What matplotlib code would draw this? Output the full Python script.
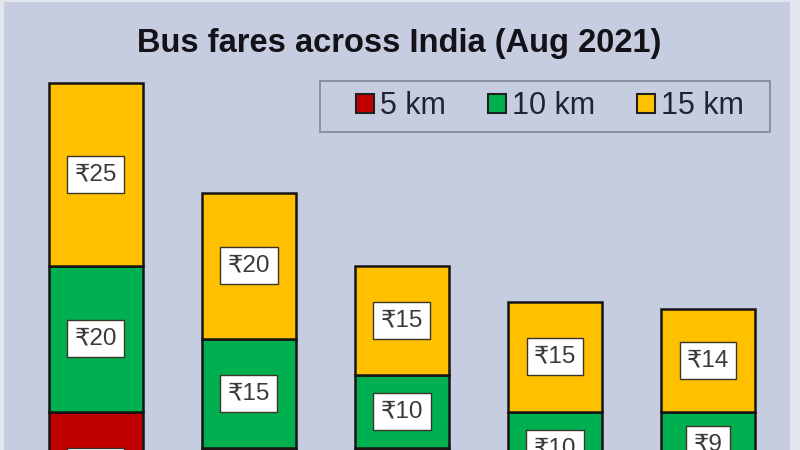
import matplotlib
matplotlib.use("Agg")
import matplotlib.pyplot as plt
import numpy as np
from matplotlib.patches import Patch, Rectangle

plt.rcParams['font.family'] = ['Liberation Sans', 'DejaVu Sans']

# ---- data ----
title = "Bus fares across India (Aug 2021)"
series_names = ["5 km", "10 km", "15 km"]
fare_5km = [15, 10, 10, 5, 6]
fare_10km = [20, 15, 10, 10, 9]
fare_15km = [25, 20, 15, 15, 14]
series_colors = ["#C00000", "#00B050", "#FFC000"]

bg = "#C6CDE0"
fig = plt.figure(figsize=(8, 4.5), dpi=100, facecolor="#E3E6EE")
ax = fig.add_axes([4 / 800, 0, 786 / 800, 448 / 450])
ax.set_facecolor(bg)

x = np.arange(len(fare_5km))
bottom = np.zeros(len(x))
for vals, col in zip([fare_5km, fare_10km, fare_15km], series_colors):
    vals = np.array(vals)
    ax.bar(x, vals, width=0.62, bottom=bottom, color=col,
           edgecolor="#151515", linewidth=1.8, zorder=2)
    for xi, b, v in zip(x, bottom, vals):
        ax.text(xi, b + v / 2, f"₹{v}", ha="center", va="center",
                fontsize=17.5, color="#3a3a3a", zorder=5, clip_on=False,
                bbox=dict(boxstyle="square,pad=0.3", facecolor="white",
                          edgecolor="#3d3428", linewidth=1.0))
    bottom = bottom + vals

ax.set_xlim(-0.601, 4.536)
ax.set_ylim(9.73, 71.1)
ax.set_xticks([])
ax.set_yticks([])
for s in ax.spines.values():
    s.set_visible(False)

# legend frame
ax.add_patch(Rectangle((0.402, 0.7098), 0.9746 - 0.402, 0.8237 - 0.7098,
                       transform=ax.transAxes, facecolor=bg, edgecolor="#7F889B",
                       linewidth=1.2, zorder=6))
handles = [Patch(facecolor=c, edgecolor="#202020", linewidth=1.5) for c in series_colors]
leg = ax.legend(handles, series_names, loc="center", bbox_to_anchor=(0.6947, 0.768),
                ncol=3, frameon=False, fontsize=22, handlelength=0.59,
                handleheight=0.59, handletextpad=0.2, columnspacing=1.36,
                borderpad=0.2, labelcolor="#1e2433")
leg.set_zorder(7)

fig.text(0.49875, 1 - 52 / 450, title, ha="center", va="baseline",
         fontsize=23.5, fontweight="bold", color="#121218")

fig.savefig("out.png", dpi=100, facecolor=fig.get_facecolor())
